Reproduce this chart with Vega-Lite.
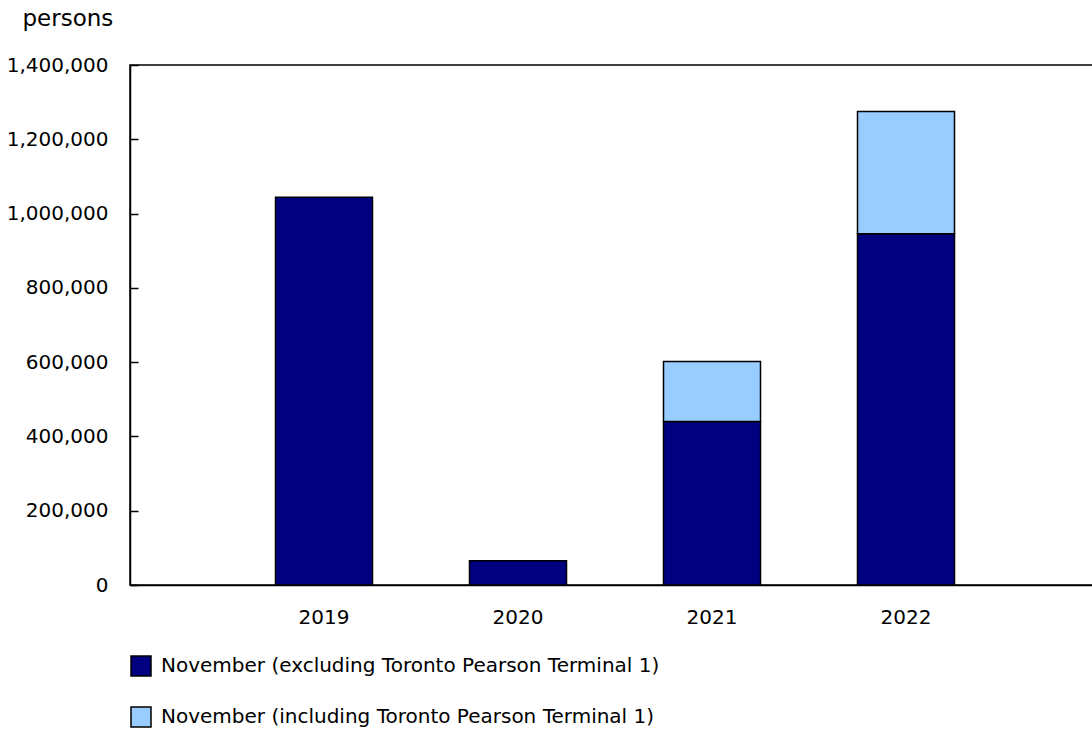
{
  "$schema": "https://vega.github.io/schema/vega-lite/v6.json",
  "autosize": "none",
  "width": 970,
  "height": 520,
  "padding": {"left": 130, "top": 65, "right": 0, "bottom": 146},
  "background": "white",
  "config": {
    "font": "DejaVu Sans",
    "view": {"stroke": "black", "strokeWidth": 1.5}
  },
  "data": {
    "values": [
      {"year": "2019", "series": "November (excluding Toronto Pearson Terminal 1)", "order": 1, "value": 1044000},
      {"year": "2020", "series": "November (excluding Toronto Pearson Terminal 1)", "order": 1, "value": 65000},
      {"year": "2021", "series": "November (excluding Toronto Pearson Terminal 1)", "order": 1, "value": 440000},
      {"year": "2021", "series": "November (including Toronto Pearson Terminal 1)", "order": 2, "value": 162000},
      {"year": "2022", "series": "November (excluding Toronto Pearson Terminal 1)", "order": 1, "value": 946000},
      {"year": "2022", "series": "November (including Toronto Pearson Terminal 1)", "order": 2, "value": 329000}
    ]
  },
  "mark": {"type": "bar", "stroke": "black", "strokeWidth": 1.5},
  "encoding": {
    "x": {
      "field": "year", "type": "ordinal",
      "scale": {"paddingInner": 0.5, "paddingOuter": 0.75},
      "axis": {"title": null, "labelAngle": 0, "labelFontSize": 20, "labelColor": "black", "ticks": false, "labelPadding": 22, "domain": true, "domainColor": "black", "domainWidth": 1.5}
    },
    "y": {
      "field": "value", "type": "quantitative",
      "stack": "zero",
      "scale": {"domain": [0, 1400000], "nice": false},
      "axis": {
        "values": [0, 200000, 400000, 600000, 800000, 1000000, 1200000, 1400000],
        "format": ",d",
        "grid": false,
        "labelFontSize": 20, "labelColor": "black", "labelPadding": 30,
        "tickSize": -8, "tickColor": "black", "tickWidth": 1.5,
        "domainColor": "black", "domainWidth": 1.5,
        "title": "persons", "titleAngle": 0, "titleFontSize": 23, "titleFontWeight": "normal",
        "titleColor": "black", "titleAlign": "left", "titleBaseline": "middle",
        "titleX": -108, "titleY": -47
      }
    },
    "color": {
      "field": "series", "type": "nominal",
      "scale": {
        "domain": ["November (excluding Toronto Pearson Terminal 1)", "November (including Toronto Pearson Terminal 1)"],
        "range": ["#000080", "#99CCFF"]
      },
      "legend": {
        "title": null, "orient": "none", "legendX": 0, "legendY": 590,
        "direction": "vertical",
        "symbolType": "square", "symbolSize": 400, "symbolStrokeColor": "black", "symbolStrokeWidth": 1.5,
        "labelFontSize": 20, "labelColor": "black", "rowPadding": 25, "labelOffset": 9, "labelLimit": 800
      }
    },
    "order": {"field": "order", "type": "quantitative"}
  }
}
